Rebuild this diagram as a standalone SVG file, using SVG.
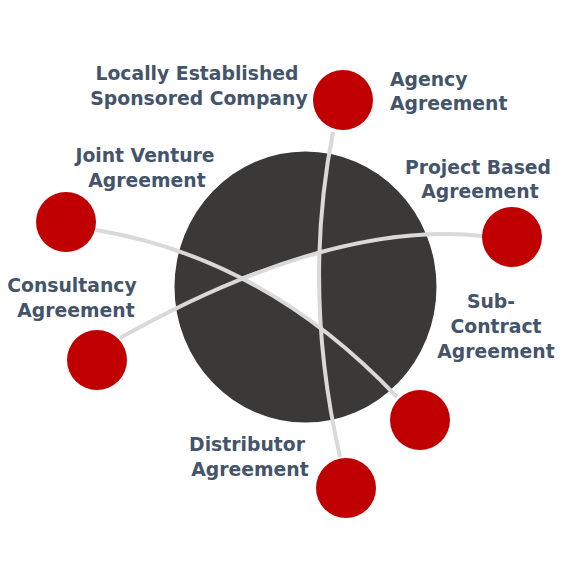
<svg xmlns="http://www.w3.org/2000/svg" width="580" height="580" viewBox="0 0 580 580">
<style>
.lbl{font-family:"DejaVu Sans",sans-serif;font-weight:bold;font-size:18.8px;fill:#44546a;text-anchor:middle}
.st{text-anchor:start}
.node{fill:#c00000}
.conn{fill:none;stroke:#d9d9d9;stroke-width:4}
</style>
<rect width="580" height="580" fill="#ffffff"/>
<g id="hub">
<ellipse cx="305.5" cy="287" rx="131" ry="135.5" fill="#3b3838"/>
<path d="M320,252 Q279,262 238,278 Q281,300 320,328 Q316,290 320,252 Z" fill="#ffffff"/>
</g>
<g id="connectors">
<path class="conn" d="M333,132 Q302,290 340,457"/>
<path class="conn" d="M483,236 Q330,220 120,338"/>
<path class="conn" d="M96,230 Q265,258 397,397"/>
</g>
<g id="agency"><circle class="node" cx="343" cy="100" r="30"/><text class="lbl st" x="390" y="86">Agency</text><text class="lbl st" x="390" y="110">Agreement</text></g>
<g id="local"><text class="lbl" x="197" y="80">Locally Established</text><text class="lbl" x="199" y="105">Sponsored Company</text></g>
<g id="jv"><circle class="node" cx="66" cy="222" r="30"/><text class="lbl" x="145" y="162">Joint Venture</text><text class="lbl" x="147" y="187">Agreement</text></g>
<g id="project"><circle class="node" cx="512" cy="237" r="30"/><text class="lbl" x="478" y="174">Project Based</text><text class="lbl" x="480" y="198">Agreement</text></g>
<g id="consultancy"><circle class="node" cx="97" cy="360" r="30"/><text class="lbl" x="72" y="292">Consultancy</text><text class="lbl" x="76" y="317">Agreement</text></g>
<g id="subcontract"><circle class="node" cx="420" cy="420" r="30"/><text class="lbl" x="491" y="308">Sub-</text><text class="lbl" x="496" y="333">Contract</text><text class="lbl" x="496" y="358">Agreement</text></g>
<g id="distributor"><circle class="node" cx="346" cy="488" r="30"/><text class="lbl" x="247" y="451">Distributor</text><text class="lbl" x="250" y="476">Agreement</text></g>
</svg>
